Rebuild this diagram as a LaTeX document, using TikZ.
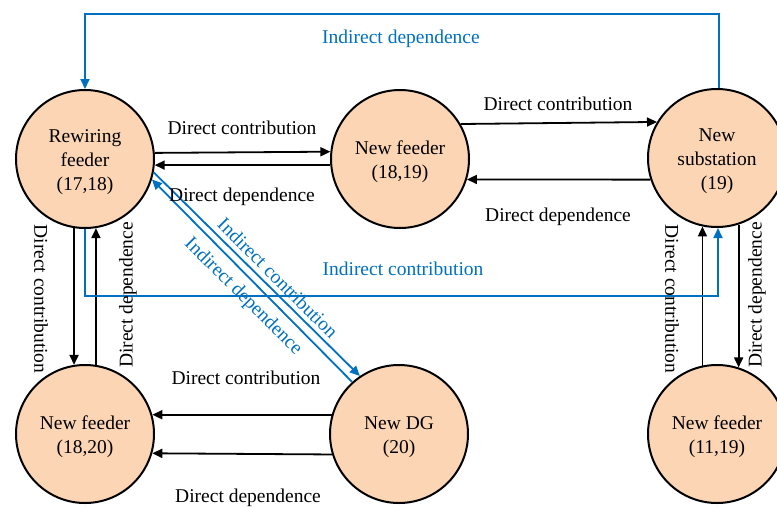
\documentclass[tikz,border=0pt]{standalone}
\usepackage{fontspec}
\setmainfont{Liberation Serif}
\usetikzlibrary{arrows.meta}
\definecolor{peach}{HTML}{FCD5B5}
\definecolor{iblue}{HTML}{0070C0}
\newcommand{\fstrut}{\rule{0pt}{20pt}}
\begin{document}
\begin{tikzpicture}[x=1pt,y=-1pt,
  state/.style={circle,draw=black,line width=2pt,fill=peach,minimum size=138pt,inner sep=0pt,align=center,
    font=\fontsize{19.5}{24}\selectfont},
  lbl/.style={font=\fontsize{19.5}{24}\selectfont,inner sep=0pt},
  blbl/.style={lbl,text=iblue},
  arr/.style={line width=1.8pt,-{Triangle[length=10pt,width=9pt]}},
  barr/.style={arr,draw=iblue}]
\useasboundingbox (0,0) rectangle (777,507);
\node[state] (rw) at (85,159) {\fstrut Rewiring\\feeder\\(17,18)};
\node[state] (nfa) at (400,159) {\fstrut New feeder\\(18,19)};
\node[state] (sub) at (717,158) {\fstrut New\\substation\\(19)};
\node[state] (nfb) at (85,434) {\fstrut New feeder\\(18,20)};
\node[state] (dg) at (399,434) {\fstrut New DG\\(20)};
\node[state] (nfc) at (717,434) {\fstrut New feeder\\(11,19)};
% top row horizontal arrows
\draw[arr] (rw.5.8) -- (nfa.174.2);
\draw[arr] (nfa.-175) -- (rw.-5);
\draw[arr] (nfa.30.5) -- (sub.149.5);
\draw[arr] (sub.-162.3) -- (nfa.-17.7);
% bottom arrows
\draw[arr] (dg.164) -- (nfb.16);
\draw[arr] (dg.-163.15) -- (nfb.-16.85);
% left vertical arrows
\draw[arr] (rw.-99.2) -- (nfb.99.2);
\draw[arr] (nfb.81.7) -- (rw.-81.7);
% right vertical arrows
\draw[arr] (nfc.102.6) -- (sub.-102.6);
\draw[arr] (sub.-72.3) -- (nfc.72.3);
% diagonal blue arrows
\draw[barr] (rw.-11) -- (dg.124);
\draw[barr] (dg.132) -- (rw.-17);
% blue indirect paths
\coordinate (ytop) at (0,14);
\coordinate (ylow) at (0,296);
\draw[barr] ([xshift=2pt]sub.north) -- ([xshift=2pt]sub.north |- ytop) -- (rw.north |- ytop) -- (rw.north);
\draw[barr] (rw.south) -- (rw.south |- ylow) -- ([xshift=1pt]sub.south |- ylow) -- ([xshift=1pt]sub.south);
% labels
\node[lbl] (l1) at (242,128) {Direct contribution};
\node[lbl] (l2) at (242,197) {Direct dependence};
\node[lbl] (l3) at (558,104) {Direct contribution};
\node[lbl] (l4) at (558,217) {Direct dependence};
\node[lbl] (l5) at (246,378) {Direct contribution};
\node[lbl] (l6) at (248,498) {Direct dependence};
\node[lbl,rotate=-90] (l7) at (41,299) {Direct contribution};
\node[lbl,rotate=90] (l8) at (128,295) {Direct dependence};
\node[lbl,rotate=-90] (l9) at (672,299) {Direct contribution};
\node[lbl,rotate=90] (l10) at (757,295) {Direct dependence};
\node[blbl] (l11) at (401,39) {Indirect dependence};
\node[blbl] (l12) at (403,269) {Indirect contribution};
\node[blbl,rotate=-45] (l13) at (278,278) {Indirect contribution};
\node[blbl,rotate=-45] (l14) at (243,297) {Indirect dependence};
\end{tikzpicture}
\end{document}
